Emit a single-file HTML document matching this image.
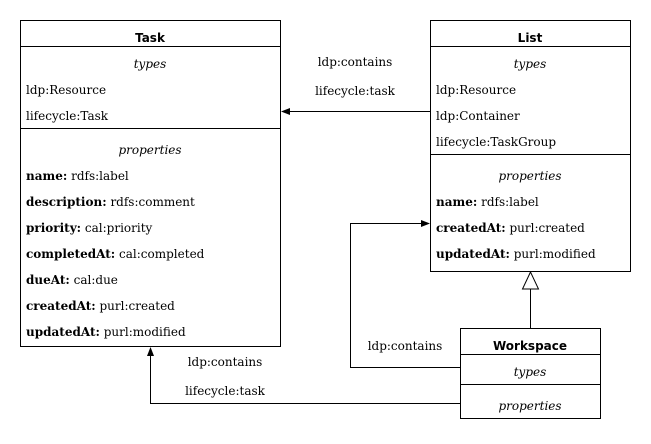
<!DOCTYPE html>
<html><head><meta charset="utf-8"><style>
html,body{margin:0;padding:0;background:#fff;}
svg text{font-family:"DejaVu Serif","Liberation Serif",serif;font-size:12px;fill:#000;}
.t{font-family:"DejaVu Sans","Liberation Sans",sans-serif;font-weight:bold;font-size:12px;}
.i{font-style:italic;}
.b{font-weight:bold;}
</style></head><body>
<svg width="651" height="439" viewBox="0 0 651 439" xmlns="http://www.w3.org/2000/svg">
<g fill="none" stroke="#000" stroke-width="1">
<rect x="20.5" y="20.5" width="260" height="326"/>
<line x1="20" y1="46.5" x2="281" y2="46.5"/>
<line x1="20" y1="128.5" x2="281" y2="128.5"/>
<rect x="430.5" y="20.5" width="200" height="251"/>
<line x1="430" y1="46.5" x2="631" y2="46.5"/>
<line x1="430" y1="154.5" x2="631" y2="154.5"/>
<rect x="460.5" y="328.5" width="140" height="90"/>
<line x1="460" y1="354.5" x2="601" y2="354.5"/>
<line x1="460" y1="384.5" x2="601" y2="384.5"/>
<line x1="430" y1="111.5" x2="290" y2="111.5"/>
<polyline points="460,367.5 350.5,367.5 350.5,223.5 422,223.5"/>
<polyline points="460,403.5 150.5,403.5 150.5,356"/>
<line x1="530.5" y1="289" x2="530.5" y2="328"/>
<polygon points="530.5,272 522.5,289 538.5,289" fill="#fff"/>
</g>
<g fill="#000">
<polygon points="281,111.5 290,108 290,115"/>
<polygon points="430,223.5 421,220 421,227"/>
<polygon points="150.5,347 147,356 154,356"/>
</g>
<text class="t" x="150" y="42" text-anchor="middle">Task</text>
<text class="i" x="150" y="68" text-anchor="middle">types</text>
<text x="26" y="94">ldp:Resource</text>
<text x="26" y="120">lifecycle:Task</text>
<text class="i" x="150" y="154" text-anchor="middle">properties</text>
<text x="26" y="180"><tspan class="b">name:</tspan> rdfs:label</text>
<text x="26" y="206"><tspan class="b">description:</tspan> rdfs:comment</text>
<text x="26" y="232"><tspan class="b">priority:</tspan> cal:priority</text>
<text x="26" y="258"><tspan class="b">completedAt:</tspan> cal:completed</text>
<text x="26" y="284"><tspan class="b">dueAt:</tspan> cal:due</text>
<text x="26" y="310"><tspan class="b">createdAt:</tspan> purl:created</text>
<text x="26" y="336"><tspan class="b">updatedAt:</tspan> purl:modified</text>
<text class="t" x="530" y="42" text-anchor="middle">List</text>
<text class="i" x="530" y="68" text-anchor="middle">types</text>
<text x="436" y="94">ldp:Resource</text>
<text x="436" y="120">ldp:Container</text>
<text x="436" y="146">lifecycle:TaskGroup</text>
<text class="i" x="530" y="180" text-anchor="middle">properties</text>
<text x="436" y="206"><tspan class="b">name:</tspan> rdfs:label</text>
<text x="436" y="232"><tspan class="b">createdAt:</tspan> purl:created</text>
<text x="436" y="258"><tspan class="b">updatedAt:</tspan> purl:modified</text>
<text class="t" x="530" y="350" text-anchor="middle">Workspace</text>
<text class="i" x="530" y="376" text-anchor="middle">types</text>
<text class="i" x="530" y="410" text-anchor="middle">properties</text>
<text x="355" y="66" text-anchor="middle">ldp:contains</text>
<text x="355" y="95" text-anchor="middle">lifecycle:task</text>
<text x="405" y="350" text-anchor="middle">ldp:contains</text>
<text x="225" y="366" text-anchor="middle">ldp:contains</text>
<text x="225" y="395" text-anchor="middle">lifecycle:task</text>
</svg>
</body></html>
